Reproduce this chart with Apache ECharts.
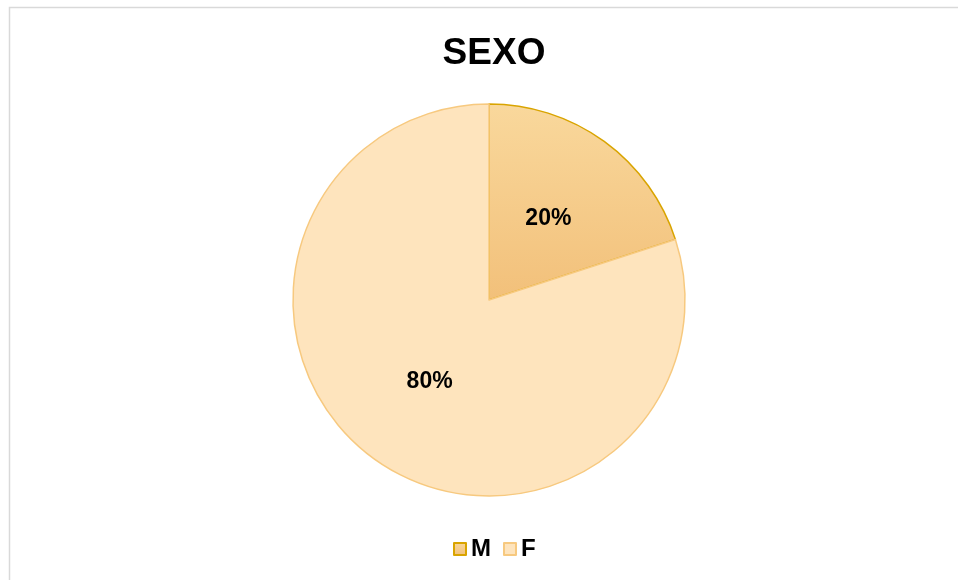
<!doctype html>
<html lang="es">
<head>
<meta charset="UTF-8">
<title>SEXO</title>
<script src="https://cdn.jsdelivr.net/npm/echarts@6/dist/echarts.min.js"></script>
<style>
  html, body { margin: 0; padding: 0; background: #fff; }
  #main { width: 958px; height: 580px; }
</style>
</head>
<body>
<div id="main"></div>
<script>
var categorias = ['M', 'F'];
var valores = [20, 80];

var estilos = [
    { color: new echarts.graphic.LinearGradient(0, 0, 0, 1, [
        { offset: 0, color: '#f9d89c' },
        { offset: 1, color: '#f2c07a' }
      ]), borderColor: '#d9a400' },
    { color: '#fee4bd', borderColor: '#f7c97f' }
];

var myChart = echarts.init(document.getElementById('main'));

var option = {
    backgroundColor: '#ffffff',
    animation: false,
    title: {
        text: 'SEXO',
        left: 489,
        textAlign: 'center',
        top: 30,
        textStyle: { fontFamily: 'Liberation Sans, Arial', fontSize: 37, fontWeight: 'bold', color: '#000' }
    },
    graphic: [{
        type: 'rect',
        shape: { x: 9.5, y: 7.5, width: 980, height: 600 },
        style: { fill: 'none', stroke: '#d9d9d9', lineWidth: 1.5 },
        silent: true
    }],
    legend: {
        data: categorias,
        left: 448,
        top: 532,
        itemWidth: 12,
        itemHeight: 12,
        itemGap: 12,
        icon: 'rect',
        textStyle: { fontFamily: 'Liberation Sans, Arial', fontSize: 24, fontWeight: 'bold', color: '#000' }
    },
    series: [{
        type: 'pie',
        center: [489, 300],
        radius: 196,
        startAngle: 90,
        clockwise: true,
        label: {
            show: true,
            position: 'inside',
            formatter: '{c}%',
            fontFamily: 'Liberation Sans, Arial',
            fontSize: 23,
            fontWeight: 'bold',
            color: '#000'
        },
        labelLine: { show: false },
        data: categorias.map(function (c, i) {
            return {
                name: c,
                value: valores[i],
                itemStyle: { color: estilos[i].color, borderColor: estilos[i].borderColor, borderWidth: 1.5 }
            };
        })
    }]
};

myChart.setOption(option);
</script>
</body>
</html>
